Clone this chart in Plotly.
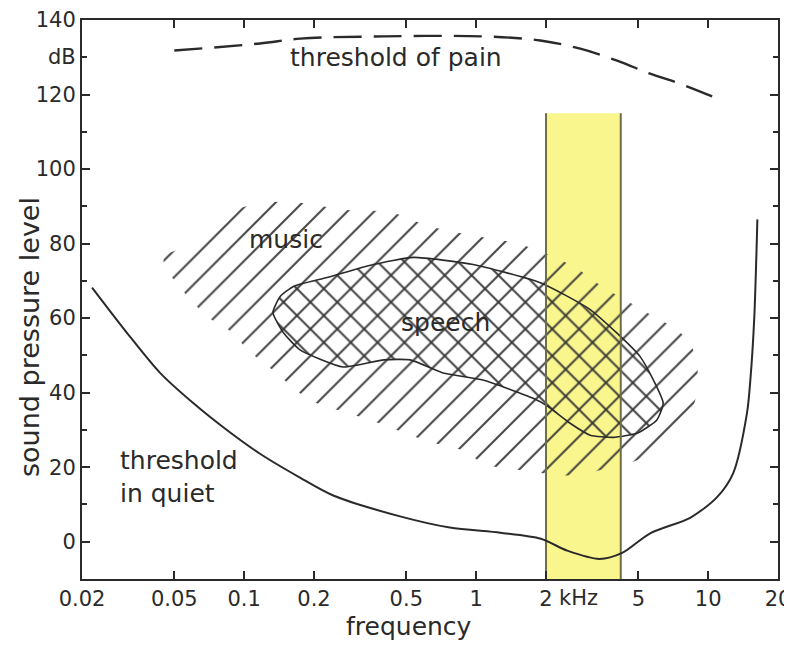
import math
import plotly.graph_objects as go

# ---------------- data ----------------
x_tick_vals = [0.02, 0.05, 0.1, 0.2, 0.5, 1, 2, 5, 10, 20]
x_tick_text = ["0.02", "0.05", "0.1", "0.2", "0.5", "1", "2", "5", "10", "20"]
y_tick_vals = [0, 20, 40, 60, 80, 100, 120, 140]

# threshold in quiet (kHz, dB)
quiet_f = [0.0221, 0.0313, 0.0434, 0.0603, 0.0845, 0.117, 0.174, 0.242, 0.47, 0.77,
           1.27, 1.9, 2.47, 3.4, 4.26, 5.6, 8.4, 10.9, 12.8, 14.7, 15.2, 15.8, 16.3]
quiet_db = [68.2, 56, 45.3, 37.2, 29.9, 23.6, 17.2, 12.4, 6.8, 3.8,
            2.4, 0.8, -2.4, -4.6, -3, 2.2, 6.5, 11.9, 18.3, 34.5, 43.4, 60, 86.5]

# threshold of pain
pain_f = [0.05, 0.117, 0.174, 0.4, 1.07, 1.89, 2.81, 4.05, 5.62, 7.57, 10.5]
pain_db = [131.8, 133.7, 135, 135.6, 135.6, 134.5, 132.3, 129.1, 125.6, 122.9, 119.4]

# music area outline
music_f = [0.045, 0.06, 0.087, 0.125, 0.169, 0.278, 0.426, 0.634, 1.01, 1.55, 2.62,
           3.49, 4.94, 8.4, 8.6, 5.46, 3.67, 2.62, 1.66, 1.07, 0.914, 0.615, 0.35,
           0.235, 0.192, 0.133, 0.106, 0.085, 0.071, 0.055]
music_db = [76, 80, 88.4, 91, 91, 89, 88.4, 84.6, 82, 79.8, 73.9,
            68.5, 63, 53, 36, 23.2, 19.7, 17.8, 19, 21, 24, 27, 32.6,
            36, 38, 46, 51, 57, 60, 67]

# speech area outline
speech_f = [0.133, 0.143, 0.163, 0.228, 0.36, 0.537, 0.97, 1.89, 3.1, 5.1, 6.4, 6.0,
            4.94, 3.9, 3.1, 2.54, 2.02, 1.76, 1.07, 0.72, 0.52, 0.4, 0.267, 0.174, 0.148]
speech_db = [61.5, 65.8, 68.5, 70.9, 74.4, 76.3, 74.4, 69.5, 62.3, 49.6, 37.2, 32.6,
             29.1, 28, 28.6, 31.8, 36.5, 38.5, 43.4, 45.3, 48.8, 48.8, 46.9, 51.5, 56]

# highlighted band
band_f = [2.0, 4.2]
band_db = [-10, 115]

# text labels
label_text = ["threshold of pain", "music", "speech", "threshold<br>in quiet"]
label_f = [0.45, 0.152, 0.74, 0.0286]
label_db = [130, 81, 58.8, 17.5]
label_anchor = ["center", "center", "center", "left"]

# ---------------- figure ----------------
INK = "#2a2a2a"
FONT = "DejaVu Sans"

fig = go.Figure()

# yellow band
fig.add_trace(go.Scatter(
    x=[band_f[0], band_f[0], band_f[1], band_f[1], band_f[0]],
    y=[band_db[0], band_db[1], band_db[1], band_db[0], band_db[0]],
    fill="toself", fillcolor="#faf68e", mode="none", hoverinfo="skip"))

# music hatch
fig.add_trace(go.Scatter(
    x=music_f + [music_f[0]], y=music_db + [music_db[0]],
    fill="toself", mode="none", line_shape="spline", fillcolor="rgba(0,0,0,0)",
    fillpattern=dict(shape="/", size=19, solidity=0.11, fgcolor="#333", fgopacity=0.9,
                     bgcolor="rgba(0,0,0,0)"),
    hoverinfo="skip"))

# speech hatch (opposite diagonal, combining into cross-hatch)
fig.add_trace(go.Scatter(
    x=speech_f + [speech_f[0]], y=speech_db + [speech_db[0]],
    fill="toself", mode="lines", line=dict(color=INK, width=1.6, shape="spline", smoothing=0.5),
    fillcolor="rgba(0,0,0,0)",
    fillpattern=dict(shape="\\", size=19, solidity=0.11, fgcolor="#333", fgopacity=0.9,
                     bgcolor="rgba(0,0,0,0)"),
    hoverinfo="skip"))

# band edges
for f in band_f:
    fig.add_trace(go.Scatter(x=[f, f], y=band_db, mode="lines",
                             line=dict(color="#6f6d45", width=2), hoverinfo="skip"))

# threshold in quiet
fig.add_trace(go.Scatter(x=quiet_f, y=quiet_db, mode="lines",
                         line=dict(color=INK, width=2, shape="spline", smoothing=0.8),
                         hoverinfo="skip"))

# threshold of pain
fig.add_trace(go.Scatter(x=pain_f, y=pain_db, mode="lines",
                         line=dict(color=INK, width=2.4, shape="spline", dash="28px,12px"),
                         hoverinfo="skip"))

annotations = []
for t, f, d, a in zip(label_text, label_f, label_db, label_anchor):
    annotations.append(dict(text=t, x=math.log10(f), y=d, xref="x", yref="y",
                            showarrow=False, xanchor=a, align="left",
                            font=dict(family=FONT, size=25, color=INK)))
# "dB" unit label on y axis
annotations.append(dict(text="dB", x=0, y=130, xref="paper", yref="y", xanchor="right",
                        xshift=-4, showarrow=False, font=dict(family=FONT, size=21, color=INK)))
# "kHz" unit after the 2 tick
annotations.append(dict(text="kHz", x=math.log10(2.22), y=0, xref="x", yref="paper",
                        xanchor="left", yanchor="top", yshift=-5, showarrow=False,
                        font=dict(family=FONT, size=21, color=INK)))
# axis titles
annotations.append(dict(text="frequency", x=0.47, y=-0.1145, xref="paper", yref="paper",
                        xanchor="center", yanchor="bottom", showarrow=False,
                        font=dict(family=FONT, size=25, color=INK)))
annotations.append(dict(text="sound pressure level", x=-0.0747, y=0.433, xref="paper",
                        yref="paper", textangle=-90, xanchor="center", yanchor="middle",
                        showarrow=False, font=dict(family=FONT, size=27, color=INK)))

fig.update_layout(
    width=784, height=637,
    margin=dict(l=74, r=14, t=12, b=66, autoexpand=False),
    paper_bgcolor="white", plot_bgcolor="white",
    showlegend=False,
    annotations=annotations,
    font=dict(family=FONT, size=21, color=INK),
)
fig.update_xaxes(
    type="log", range=[math.log10(0.02), math.log10(20)],
    tickvals=x_tick_vals, ticktext=x_tick_text,
    ticks="inside", ticklen=8, tickwidth=1.5, tickcolor=INK,
    showline=True, linecolor=INK, linewidth=2, mirror="ticks",
    showgrid=False, zeroline=False, automargin=False,
    tickfont=dict(family=FONT, size=21, color=INK),
)
fig.update_yaxes(
    range=[-10, 140], tickvals=y_tick_vals,
    ticks="inside", ticklen=8, tickwidth=1.5, tickcolor=INK,
    minor=dict(dtick=10, ticks="inside", ticklen=5, tickcolor=INK, showgrid=False),
    showline=True, linecolor=INK, linewidth=2, mirror="ticks",
    showgrid=False, zeroline=False, automargin=False,
    tickfont=dict(family=FONT, size=21, color=INK),
)

fig.write_html("out.html")
